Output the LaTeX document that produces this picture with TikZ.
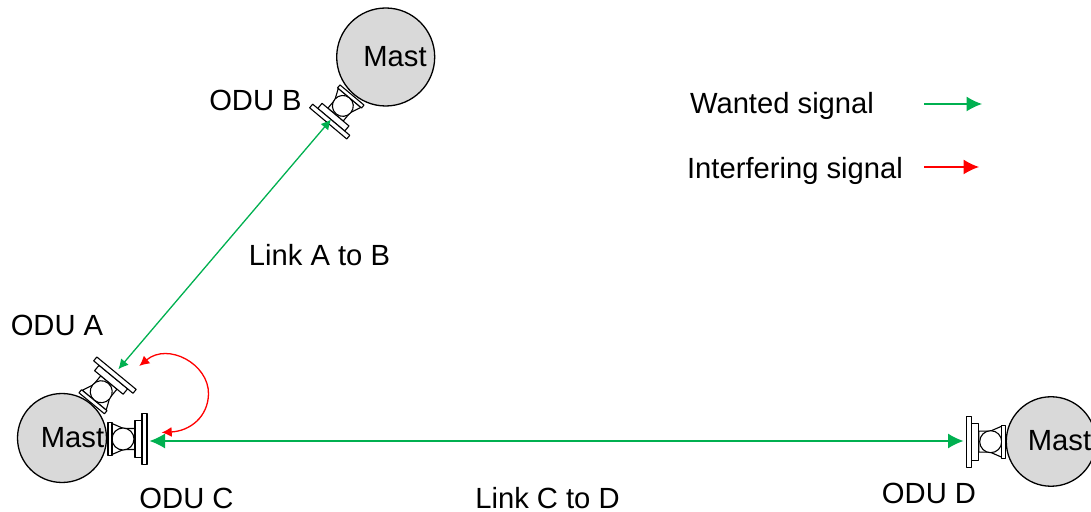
\documentclass[tikz,border=0pt]{standalone}
\usepackage{fontspec}
\setmainfont{Liberation Sans}
\usetikzlibrary{arrows.meta}
\definecolor{wanted}{HTML}{00B050}
\definecolor{interfering}{HTML}{FF0000}
\definecolor{mastfill}{HTML}{D9D9D9}
\tikzset{
  mast/.style={circle,draw=black,fill=mastfill,line width=1.3bp,inner sep=0pt,minimum size=#1},
  lbl/.style={inner sep=0pt,font=\fontsize{29.3}{32}\selectfont},
  wantedsig/.style={draw=wanted,line width=1.3bp},
  interfsig/.style={draw=interfering,line width=1.3bp},
  bigtip/.style={>={Latex[length=15.5bp,width=15bp]}},
  odu/.pic={
    \draw [line width=1.1bp,fill=white] (4bp,15.5bp) -- (15.5bp,10.5bp) -- (27bp,10.5bp) -- (27bp,-10.5bp) -- (15.5bp,-10.5bp) -- (4bp,-15.5bp) -- cycle;
    \draw [line width=1.1bp,fill=white] (15bp,0bp) circle (11bp);
    \draw [line width=1.1bp,fill=white] (0bp,-16.5bp) rectangle (4bp,16.5bp);
    \draw [line width=1.1bp,fill=white] (27bp,-18.5bp) rectangle (34bp,18.5bp);
    \draw [line width=1.1bp,fill=white] (34bp,-25.5bp) rectangle (39bp,25.5bp);
  }
}
\begin{document}
\begin{tikzpicture}[>={Latex[length=10bp,width=10bp]},line join=bevel]
  \useasboundingbox (0bp,0bp) rectangle (1091bp,512bp);
  % Node: Masts
  \node [mast=89bp] (mastC) at (62bp,74bp) {};
  \node [mast=98bp] (mastB) at (385.7bp,455bp) {};
  \node [mast=89.5bp] (mastD) at (1051bp,70.5bp) {};
  \node [lbl] (mastCtext) at (72.5bp,74.5bp) {Mast};
  \node [lbl] (mastBtext) at (395bp,455.5bp) {Mast};
  \node [lbl] (mastDtext) at (1059.5bp,71bp) {Mast};
  % Node: ODUs
  \pic [rotate=50.5] at (91.7bp,108.7bp) {odu};
  \pic [rotate=230,scale=.95] at (352bp,417bp) {odu};
  \pic at (108bp,73bp) {odu};
  \pic [rotate=180] at (1005.7bp,70.3bp) {odu};
  \node [lbl] (oduAtext) at (57bp,187bp) {ODU A};
  \node [lbl] (oduBtext) at (255.5bp,412bp) {ODU B};
  \node [lbl] (oduCtext) at (186.5bp,14bp) {ODU C};
  \node [lbl] (oduDtext) at (929bp,19bp) {ODU D};
  % Edge: ends of the links
  \coordinate (tipA) at (118.3bp,142.7bp);
  \coordinate (tipB) at (331bp,392.5bp);
  \coordinate (tipC) at (149.5bp,71bp);
  \coordinate (tipD) at (963.5bp,71bp);
  \coordinate (redA) at (139.3bp,146bp);
  \coordinate (redC) at (161.7bp,79.5bp);
  % Edge: ODU A -> ODU B
  \draw [<->,wantedsig] (tipA) -- (tipB);
  \node [lbl] (linkAB) at (319.5bp,257bp) {Link A to B};
  % Edge: ODU C -> ODU D
  \draw [<->,wantedsig,bigtip] (tipC) -- (tipD);
  \node [lbl] (linkCD) at (547.5bp,14bp) {Link C to D};
  % Edge: ODU A -> ODU C
  \draw [<->,interfsig] (redA) .. controls (168bp,170bp) and (209bp,148bp) .. (208.5bp,118bp)
    .. controls (208bp,95bp) and (190bp,81bp) .. (redC);
  % Legend
  \node [lbl] (wantedtext) at (782bp,406.5bp) {Wanted signal};
  \node [lbl] (interftext) at (795bp,341.5bp) {Interfering signal};
  \coordinate (wantedA) at (924bp,408bp);
  \coordinate (wantedB) at (982bp,408bp);
  \coordinate (interfA) at (924bp,345bp);
  \coordinate (interfB) at (979bp,345bp);
  \draw [->,wantedsig,bigtip] (wantedA) -- (wantedB);
  \draw [->,interfsig,bigtip] (interfA) -- (interfB);
\end{tikzpicture}
\end{document}
